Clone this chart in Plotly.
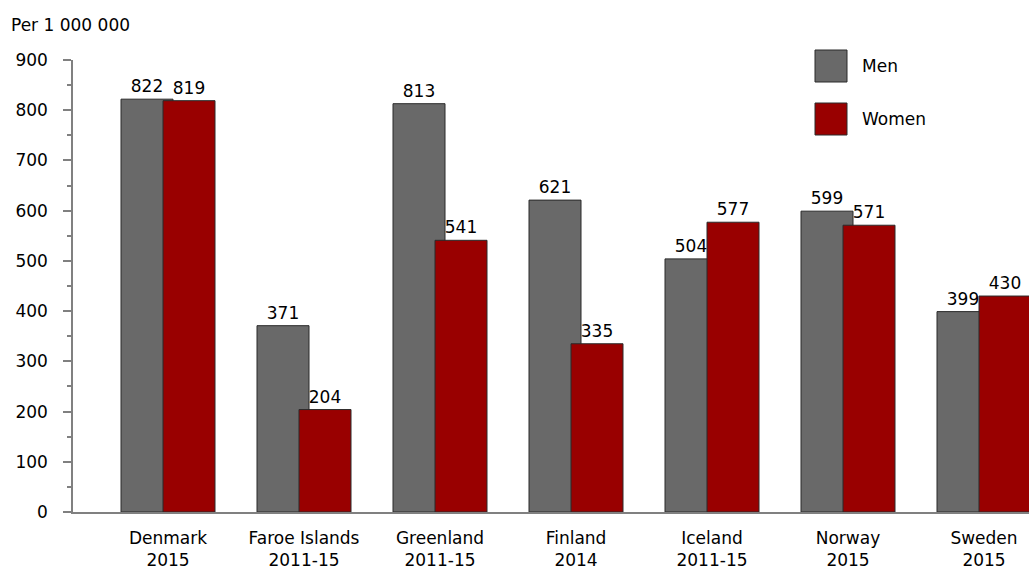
import plotly.graph_objects as go

countries = ["Denmark<br>2015", "Faroe Islands<br>2011-15", "Greenland<br>2011-15",
             "Finland<br>2014", "Iceland<br>2011-15", "Norway<br>2015", "Sweden<br>2015"]
men = [822, 371, 813, 621, 504, 599, 399]
women = [819, 204, 541, 335, 577, 571, 430]

FONT = "DejaVu Sans, sans-serif"
FS = 17
MEN_COLOR = "#696969"
WOMEN_COLOR = "#990000"

pos = list(range(len(countries)))
bar_w = 52 / 136

fig = go.Figure()
fig.add_trace(go.Bar(
    x=pos, y=men, name="Men", width=bar_w, offset=-47 / 136,
    marker=dict(color=MEN_COLOR, line=dict(color="#2a2a2a", width=1)),
    text=[str(v) for v in men], textposition="outside",
    textfont=dict(family=FONT, size=FS, color="black"), cliponaxis=False,
    showlegend=False,
))
fig.add_trace(go.Bar(
    x=pos, y=women, name="Women", width=bar_w, offset=-5 / 136,
    marker=dict(color=WOMEN_COLOR, line=dict(color="#2a2a2a", width=1)),
    text=[str(v) for v in women], textposition="outside",
    textfont=dict(family=FONT, size=FS, color="black"), cliponaxis=False,
    showlegend=False,
))

# legend drawn as boxes + labels placed by pixel position
W, H = 1029, 574
L, R, T, B = 73, 0, 60, 62
pw, ph = W - L - R, H - T - B


def px_x(x):
    return (x - L) / pw


def px_y(y):
    return (H - B - y) / ph


shapes = []
annotations = []
for i, (label, col) in enumerate([("Men", MEN_COLOR), ("Women", WOMEN_COLOR)]):
    y0 = 50 + i * 53
    shapes.append(dict(type="rect", xref="paper", yref="paper",
                       x0=px_x(815), x1=px_x(847), y0=px_y(y0 + 32), y1=px_y(y0),
                       fillcolor=col, line=dict(color="#2a2a2a", width=1)))
    annotations.append(dict(xref="paper", yref="paper", x=px_x(860), y=px_y(y0 + 16),
                            text=label, showarrow=False, xanchor="left", yanchor="middle",
                            font=dict(family=FONT, size=FS, color="black")))

annotations.append(dict(xref="paper", yref="paper", x=px_x(9), y=px_y(25),
                        text="Per 1 000 000", showarrow=False, xanchor="left",
                        yanchor="middle", font=dict(family=FONT, size=FS, color="black")))

fig.update_layout(
    width=W, height=H,
    margin=dict(l=L, r=R, t=T, b=B),
    paper_bgcolor="white", plot_bgcolor="white",
    barmode="overlay",
    font=dict(family=FONT, size=FS, color="black"),
    shapes=shapes, annotations=annotations,
    xaxis=dict(
        tickmode="array", tickvals=pos, ticktext=countries,
        range=[-95 / 136, -95 / 136 + pw / 136],
        showline=True, linecolor="#808080", linewidth=1.5,
        ticks="", showgrid=False, zeroline=False, ticklabelstandoff=10,
        tickfont=dict(family=FONT, size=FS, color="black"),
    ),
    yaxis=dict(
        range=[0, 900], tickmode="linear", tick0=0, dtick=100,
        showline=True, linecolor="#808080", linewidth=1.5,
        ticks="outside", ticklen=8, tickcolor="#808080", tickwidth=1.5,
        minor=dict(dtick=50, ticks="outside", ticklen=4, tickcolor="#808080", tickwidth=1.5),
        showgrid=False, zeroline=False, ticklabelstandoff=12,
        tickfont=dict(family=FONT, size=FS, color="black"),
    ),
)

fig.write_html("out.html")
